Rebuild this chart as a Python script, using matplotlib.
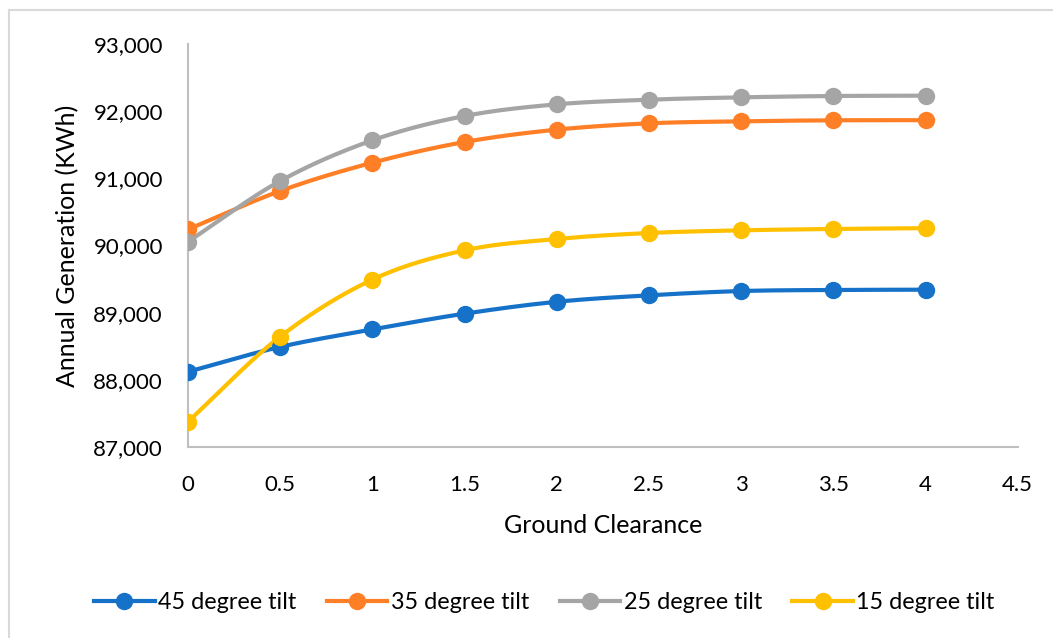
import numpy as np
import matplotlib as mpl
mpl.use("Agg")
import matplotlib.pyplot as plt
from matplotlib.lines import Line2D
from matplotlib.ticker import FuncFormatter, MultipleLocator

plt.rcParams["font.family"] = ["Lato", "DejaVu Sans"]

clearance = [0, 0.5, 1, 1.5, 2, 2.5, 3, 3.5, 4]
tilt_45 = [88120, 88490, 88750, 88985, 89162, 89258, 89322, 89338, 89342]
tilt_35 = [90240, 90812, 91233, 91541, 91725, 91819, 91849, 91864, 91866]
tilt_25 = [90057, 90960, 91566, 91928, 92102, 92171, 92206, 92226, 92231]
tilt_15 = [87377, 88643, 89492, 89928, 90097, 90186, 90226, 90246, 90258]
labels = ["45 degree tilt", "35 degree tilt", "25 degree tilt", "15 degree tilt"]
colors = ["#1672C8", "#FF7F27", "#A5A5A5", "#FFC000"]


def smooth(x, y, n=30):
    # Catmull-Rom through the points, like a spreadsheet "smoothed line"
    x = np.asarray(x, float); y = np.asarray(y, float)
    px = np.concatenate([[2 * x[0] - x[1]], x, [2 * x[-1] - x[-2]]])
    py = np.concatenate([[2 * y[0] - y[1]], y, [2 * y[-1] - y[-2]]])
    xs, ys = [], []
    t = np.linspace(0, 1, n)
    for i in range(1, len(px) - 2):
        for p, out in ((px, xs), (py, ys)):
            p0, p1, p2, p3 = p[i - 1], p[i], p[i + 1], p[i + 2]
            out.append(0.5 * (2 * p1 + (-p0 + p2) * t + (2 * p0 - 5 * p1 + 4 * p2 - p3) * t ** 2
                              + (-p0 + 3 * p1 - 3 * p2 + p3) * t ** 3))
    return np.concatenate(xs), np.concatenate(ys)


fig = plt.figure(figsize=(10.53, 6.38), dpi=100)
ax = fig.add_axes([0.1785, 0.2994, 0.788, 0.6316])

handles = []
for ys, c, lab in zip([tilt_45, tilt_35, tilt_25, tilt_15], colors, labels):
    sx, sy = smooth(clearance, ys)
    ax.plot(sx, sy, color=c, lw=3.0, solid_capstyle="round", zorder=2)
    ax.plot(clearance, ys, "o", color=c, ms=11.5, zorder=3)
    handles.append(Line2D([], [], color=c, lw=3.0, marker="o", ms=11.5, label=lab))

ax.set_xlim(0, 4.5)
ax.set_ylim(87000, 93000)
ax.xaxis.set_major_locator(MultipleLocator(0.5))
ax.yaxis.set_major_locator(MultipleLocator(1000))
ax.xaxis.set_major_formatter(FuncFormatter(lambda v, _: f"{v:g}"))
ax.yaxis.set_major_formatter(FuncFormatter(lambda v, _: f"{v:,.0f}"))
for s in ("top", "right"):
    ax.spines[s].set_visible(False)
for s in ("left", "bottom"):
    ax.spines[s].set_color("#BFBFBF")
    ax.spines[s].set_linewidth(1.5)
ax.tick_params(length=0, labelsize=16, colors="#000000")
ax.tick_params(axis="y", pad=18)
ax.tick_params(axis="x", pad=20)
ax.set_xlabel("Ground Clearance", fontsize=18, labelpad=14)
ax.set_ylabel("Annual Generation (KWh)", fontsize=18, labelpad=10)

fig.legend(handles=handles, loc="center", bbox_to_anchor=(0.517, 0.055), ncol=4, frameon=False,
           fontsize=16.8, handlelength=2.6, handletextpad=0.15, columnspacing=1.3)

# chart frame
fig.add_artist(Line2D([9 / 1053, 1], [1 - 10 / 638] * 2, color="#D9D9D9", lw=1.5))
fig.add_artist(Line2D([9 / 1053] * 2, [0, 1 - 10 / 638], color="#D9D9D9", lw=1.5))

fig.savefig("out.png", dpi=100)
